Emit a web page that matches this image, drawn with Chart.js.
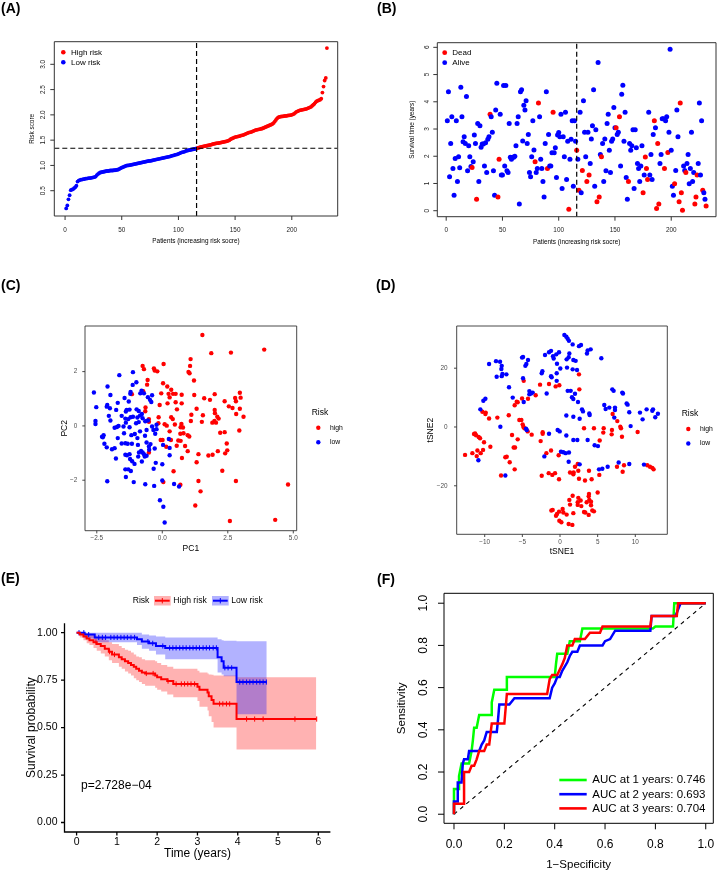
<!DOCTYPE html>
<html>
<head>
<meta charset="utf-8">
<script src="https://cdn.jsdelivr.net/npm/chart.js@4.4.1/dist/chart.umd.min.js"></script>
<style>
  body { margin: 0; background: #fff; }
  #wrap { position: relative; width: 720px; height: 873px; overflow: hidden; }
  canvas { position: absolute; }
  .tag { position: absolute; font: bold 14px "Liberation Sans", Arial, sans-serif; line-height: 18px; color: #000; }
</style>
</head>
<body>
<div id="wrap">
  <canvas id="cA" width="360" height="290" style="left:0;top:0"></canvas>
  <canvas id="cB" width="360" height="290" style="left:360px;top:0"></canvas>
  <canvas id="cC" width="360" height="270" style="left:0;top:290px"></canvas>
  <canvas id="cD" width="360" height="270" style="left:360px;top:290px"></canvas>
  <canvas id="cE" width="360" height="313" style="left:0;top:560px"></canvas>
  <canvas id="cF" width="360" height="313" style="left:360px;top:560px"></canvas>
  <div class="tag" style="left:1px;top:-1px">(A)</div>
  <div class="tag" style="left:377px;top:-1px">(B)</div>
  <div class="tag" style="left:1px;top:276px">(C)</div>
  <div class="tag" style="left:376px;top:276px">(D)</div>
  <div class="tag" style="left:1px;top:569px">(E)</div>
  <div class="tag" style="left:377px;top:570px">(F)</div>
</div>
<script>
// (A) risk score of each patient, sorted
const riskScore = [
  0.15,0.21,0.33,0.41,0.51,0.52,0.53,0.55,0.57,0.60,
  0.68,0.70,0.71,0.72,0.72,0.73,0.73,0.74,0.74,0.745,
  0.75,0.75,0.755,0.76,0.765,0.77,0.78,0.81,0.83,0.845,
  0.86,0.865,0.87,0.875,0.88,0.885,0.89,0.89,0.895,0.90,
  0.90,0.90,0.905,0.905,0.91,0.915,0.92,0.93,0.945,0.955,
  0.965,0.975,0.985,0.995,1.0,1.0,1.005,1.01,1.015,1.02,
  1.025,1.03,1.035,1.04,1.045,1.05,1.055,1.06,1.065,1.07,
  1.075,1.08,1.085,1.09,1.09,1.095,1.10,1.105,1.11,1.115,
  1.12,1.125,1.13,1.135,1.14,1.145,1.15,1.155,1.16,1.165,
  1.17,1.175,1.18,1.19,1.195,1.20,1.21,1.215,1.22,1.23,
  1.24,1.25,1.26,1.265,1.27,1.28,1.29,1.295,1.30,1.305,
  1.31,1.315,1.32,1.325,1.33,1.335,1.345,1.35,1.36,1.365,
  1.37,1.375,1.38,1.385,1.39,1.395,1.40,1.405,1.41,1.42,
  1.425,1.43,1.435,1.44,1.44,1.445,1.45,1.455,1.46,1.465,
  1.47,1.475,1.48,1.49,1.50,1.52,1.53,1.54,1.55,1.56,
  1.565,1.57,1.575,1.58,1.59,1.595,1.60,1.61,1.62,1.63,
  1.64,1.65,1.655,1.66,1.67,1.68,1.69,1.70,1.705,1.71,
  1.715,1.72,1.725,1.73,1.74,1.75,1.76,1.77,1.78,1.79,
  1.80,1.81,1.82,1.84,1.87,1.90,1.93,1.95,1.96,1.965,
  1.97,1.97,1.975,1.98,1.98,1.985,1.99,1.99,1.995,2.0,
  2.01,2.02,2.04,2.06,2.07,2.08,2.09,2.095,2.10,2.105,
  2.11,2.115,2.12,2.13,2.14,2.15,2.16,2.18,2.20,2.22,
  2.25,2.27,2.28,2.29,2.30,2.32,2.44,2.56,2.68,2.73,3.32
];
const riskCutIndex = 116;
const riskCutScore = 1.34;
const riskLegend = ['High risk', 'Low risk'];
const patientTicks = [0, 50, 100, 150, 200];
const riskTicks = [0.5, 1.0, 1.5, 2.0, 2.5, 3.0];

// (B) survival time (years) and status (1 = dead) in the same patient order
const survTime = [
  3.3,4.37,1.25,2.47,3.45,1.55,0.57,1.92,3.3,1.07,
  1.98,1.58,4.53,3.45,2.53,2.72,2.47,4.19,1.47,2.39,
  1.98,1.62,1.59,1.8,2.78,2.47,0.42,3.2,1.07,3.12,
  2.33,2.45,2.45,1.64,2.5,1.4,2.62,2.72,3.54,3.45,
  2.88,1.47,0.57,3.7,4.68,0.5,1.89,3.54,1.31,1.31,
  4.6,1.64,4.6,1.47,1.4,3.2,1.96,1.89,1.96,1.96,
  2.0,
  2.39,3.2,3.45,0.25,4.37,4.44,2.56,3.87,3.7,4.04,
  2.47,2.8,1.4,1.25,1.98,3.3,2.23,1.8,1.4,1.55,
  3.96,3.45,1.89,1.55,1.07,0.5,2.47,4.37,1.55,2.8,
  1.64,1.64,2.13,3.62,2.13,2.31,1.22,2.78,2.87,2.72,
  3.54,0.82,2.72,1.98,3.62,1.15,2.55,0.05,1.89,2.62,
  3.3,0.9,3.3,2.55,2.22,1.89,0.75,3.62,0.66,1.48,
  4.04,2.88,1.98,1.07,2.88,1.31,1.73,2.63,3.12,4.44,
  0.9,2.97,0.33,5.44,0.5,2.06,1.98,2.47,1.07,2.63,
  1.47,3.2,3.54,2.22,1.4,2.55,2.63,3.79,3.05,3.05,
  2.8,2.88,3.45,1.64,4.28,4.61,2.55,3.62,1.22,0.42,
  1.07,2.47,2.22,2.39,2.97,0.82,2.97,2.31,1.73,1.55,
  1.07,1.64,2.39,0.66,1.31,1.97,1.55,1.15,3.62,1.31,
  2.06,1.15,2.8,3.3,3.05,0.08,2.47,0.25,1.73,2.06,
  3.38,3.38,1.55,3.3,3.45,2.14,2.88,5.93,2.22,0.9,
  0.57,0.99,1.48,3.7,2.72,0.33,3.96,0.66,0.02,1.64,
  1.48,1.4,1.73,2.06,0.99,1.55,2.88,1.07,1.4,0.25,
  0.5,1.31,1.73,3.96,1.31,3.3,0.75,0.66,0.42,0.17
];
const survStatus = [
  0,0,0,0,0,0,0,0,0,0, 0,0,0,0,0,0,0,0,0,0,
  0,0,1,0,0,0,1,0,0,0, 0,0,0,0,0,0,0,0,1,0,
  0,0,0,0,0,1,1,0,0,0, 0,0,0,0,0,0,0,0,0,0,
  0,
  0,0,0,0,0,0,0,0,0,0, 0,0,0,0,0,0,0,1,0,0,
  1,0,0,0,0,0,0,0,1,0, 0,0,0,1,0,0,0,0,0,0,
  0,0,0,0,0,0,0,1,0,0, 0,0,0,0,1,0,1,0,0,1,
  0,0,0,1,0,1,0,0,0,0, 0,0,1,0,1,0,1,0,0,0,
  0,0,0,0,0,0,0,0,0,1, 0,0,1,0,0,0,0,0,0,0,
  1,0,0,0,0,0,0,0,0,0, 0,0,0,1,0,1,1,1,0,0,
  0,0,0,1,0,1,1,1,0,0, 0,0,1,0,0,1,0,0,0,0,
  0,1,0,0,0,1,1,1,1,0, 0,1,0,0,0,0,0,0,0,1,
  1,1,0,0,0,0,1,0,0,1
];
const statusLegend = ['Dead', 'Alive'];
const survTicks = [0, 1, 2, 3, 4, 5, 6];

// (C) PCA coordinates [PC1, PC2]
const pcaHigh = [
  [1.53,3.35],[1.87,2.68],[2.62,2.7],[3.89,2.81],[-0.75,2.21],[-0.7,2.09],[-0.32,2.12],[-0.29,2.04],[-0.19,2.01],[0.05,2.28],
  [1.08,2.46],[1.06,2.21],[1.0,1.99],[1.04,1.94],[1.21,1.67],[-0.56,1.69],[-0.58,1.52],[0.03,1.57],[0.19,1.45],[0.34,1.33],
  [0.41,1.18],[0.24,1.18],[0.51,1.18],[-0.04,1.2],[0.74,1.15],[1.22,1.14],[-1.16,1.17],[-0.73,1.28],[-0.78,1.25],[1.6,1.02],
  [1.82,0.96],[2.0,1.17],[2.38,0.91],[2.78,1.03],[2.81,0.91],[2.96,1.22],[2.99,1.04],[2.54,0.72],[2.68,0.66],[2.96,0.63],
  [3.1,0.34],[2.82,0.44],[1.31,0.63],[1.55,0.39],[1.11,0.41],[1.09,0.18],[-0.1,0.77],[-0.64,0.68],[-0.65,0.54],[0.2,0.83],
  [0.51,0.87],[0.74,0.83],[0.56,0.61],[0.34,0.32],[-0.14,0.32],[-0.51,0.25],[-0.51,0.15],[-0.15,0.1],[0.09,0.06],[0.17,0.01],
  [0.48,0.05],[0.73,0.07],[0.7,-0.05],[0.79,-0.06],[0.69,-0.29],[0.81,-0.27],[0.97,-0.34],[1.03,-0.39],[2.0,0.59],[2.01,0.47],
  [2.1,0.34],[1.99,0.18],[1.91,0.12],[2.05,0.12],[2.15,0.27],[1.51,0.15],[2.21,-0.25],[2.38,-0.23],[2.94,-0.17],[-0.06,-0.52],
  [0.01,-0.52],[0.28,-0.2],[0.33,-0.52],[0.61,-0.54],[0.7,-0.55],[0.55,-0.73],[0.15,-0.77],[0.87,-0.74],[-0.51,-0.98],[0.97,-0.93],
  [1.38,-1.04],[1.92,-1.06],[1.76,-1.09],[2.12,-0.93],[2.48,-0.9],[2.4,-1.01],[2.46,-0.65],[0.75,-1.18],[1.31,-1.34],[0.43,-1.67],
  [2.29,-1.65],[0.04,-2.07],[0.69,-2.17],[1.38,-2.03],[2.81,-2.03],[1.46,-2.41],[1.26,-2.93],[2.58,-3.5],[4.31,-3.46],[4.8,-2.16],
  [0.4,0.25],[0.28,1.05]
];
const pcaLow = [
  [-2.61,1.23],[-2.52,0.69],[-2.55,0.18],[-2.55,0.07],[-2.09,1.45],[-1.98,1.14],[-2.1,0.77],[-2.12,0.71],[-2.0,0.65],[-2.04,0.37],
  [-1.98,0.2],[-2.24,-0.34],[-2.27,-0.42],[-2.21,-0.66],[-2.12,-0.79],[-1.92,-0.86],[-1.82,-0.82],[-1.77,-1.2],[-2.1,-2.04],[-1.64,1.87],
  [-1.7,0.85],[-1.76,0.59],[-1.55,0.37],[-1.67,0.0],[-1.82,-0.07],[-1.73,-0.04],[-1.46,-0.27],[-1.48,-0.02],[-1.39,0.12],[-1.41,0.27],
  [-1.39,0.53],[-1.36,0.59],[-1.44,1.03],[-1.28,0.9],[-1.21,1.25],[-1.22,1.18],[-1.13,1.51],[-0.99,1.61],[-1.12,1.98],[-1.12,0.34],
  [-1.21,0.32],[-1.25,-0.05],[-1.18,-0.34],[-0.98,0.61],[-0.95,0.31],[-0.9,0.14],[-0.85,0.38],[-0.78,0.44],[-0.75,0.28],[-0.65,0.17],
  [-0.84,1.2],[-0.7,1.2],[-0.79,1.3],[-0.55,1.06],[-0.47,0.96],[-0.39,1.13],[-0.42,0.88],[-1.41,-0.64],[-1.32,-0.66],[-1.16,-0.66],
  [-1.35,-1.08],[-1.25,-1.04],[-1.41,-1.06],[-1.23,-1.22],[-1.15,-1.3],[-1.06,-1.4],[-1.41,-1.6],[-1.3,-1.6],[-1.2,-1.66],[-1.39,-1.88],
  [-1.09,-2.07],[-0.93,-0.7],[-0.89,-0.98],[-0.92,-1.13],[-0.81,-0.92],[-0.75,-0.98],[-0.7,-1.04],[-0.67,-1.13],[-0.78,-1.31],[-0.6,-1.1],
  [-0.6,-0.61],[-0.51,-0.76],[-0.45,-0.67],[-0.39,-0.02],[-0.34,-0.15],[-0.22,0.04],[-0.22,-0.12],[-0.27,-0.29],[-0.6,-0.15],[-0.66,-0.36],
  [-0.5,-0.88],[-0.29,-0.83],[-0.25,-1.36],[-0.33,-1.58],[-0.65,-2.15],[-0.31,-2.21],[0.0,-1.41],[0.03,-0.7],[0.25,-0.48],[0.28,-0.81],
  [0.28,-1.08],[0.45,-2.14],[0.64,-2.23],[-0.09,-2.74],[0.04,-2.98],[0.09,-3.56],[0.0,-2.01],[-1.0,0.1],[-1.3,0.25],[-1.05,-0.3],
  [-0.95,-0.45],[-1.55,-0.65],[-1.7,-0.45],[-0.9,0.55],[-1.25,0.6],[-2.3,-0.4],[-0.55,0.2],[-0.85,-0.2]
];
const pcaXTicks = [-2.5, 0, 2.5, 5];
const pcaYTicks = [-2, 0, 2];

// (D) t-SNE coordinates [tSNE1, tSNE2]
const tsneHigh = [
  [-12.61,-9.5],[-11.64,-8.9],[-11.42,-2.4],[-11.15,-2.8],[-11.28,-2.2],[-10.8,-3.4],[-10.62,-3.85],[-10.97,-8.0],[-11.06,-9.9],[-10.53,-8.9],
  [-10.22,-7.8],[-10.09,-5.2],[-9.25,-6.7],[-10.31,5.2],[-9.87,4.9],[-9.91,4.4],[-9.42,2.9],[-8.32,3.2],[-6.81,4.0],[-7.83,-16.5],
  [-7.26,-10.3],[-7.08,-10.1],[-6.68,-12.0],[-6.37,-2.7],[-6.15,-7.0],[-5.97,-7.0],[-6.02,-14.4],[-5.62,-4.2],[-5.4,2.4],[-5.13,2.4],
  [-4.96,0.9],[-4.87,0.1],[-5.04,9.7],[-5.75,8.6],[-6.02,7.4],[-5.62,8.4],[-4.82,15.7],[-4.25,9.6],[-4.73,-0.45],[-4.29,-1.5],
  [-3.76,-2.6],[-3.23,10.8],[-2.65,14.4],[-2.57,-4.8],[-2.3,-1.8],[-2.43,-16.6],[-2.3,-2.3],[-1.81,-8.9],[-1.19,-8.0],[-1.46,14.6],
  [-0.58,13.8],[-0.09,14.2],[-1.5,-15.7],[-1.02,-16.3],[-0.66,-15.7],[-0.13,-17.8],[-0.18,-9.6],[1.33,-15.5],[1.77,-16.1],[1.81,-15.5],
  [1.99,-13.5],[2.35,-12.6],[2.43,-14.9],[2.52,-17.6],[2.52,17.9],[2.57,12.8],[3.32,-18.2],[3.85,-14.9],[4.2,-17.8],[3.19,-0.45],
  [4.51,-0.45],[5.27,-4.6],[5.22,-16.3],[5.8,-0.45],[5.75,-1.9],[6.86,-2.5],[6.9,-1.0],[6.99,4.4],[7.61,2.0],[8.01,0.1],
  [8.1,-0.45],[8.23,-3.3],[8.5,-13.0],[8.32,-15.2],[7.57,-13.5],[10.31,-1.7],[11.59,-13.0],[11.95,-13.5],[12.26,-13.9],[12.43,-14.4],
  [-1.15,-28.4],[-0.97,-28.2],[-0.4,-29.6],[-0.13,-28.8],[0.35,-27.9],[0.88,-29.8],[1.33,-26.4],[1.68,-23.4],[1.24,-24.8],[1.77,-29.3],
  [2.35,-25.6],[2.35,-26.5],[2.43,-24.1],[2.74,-25.0],[2.83,-26.9],[3.19,-28.9],[3.54,-25.6],[3.81,-23.6],[3.89,-24.8],[3.85,-22.8],
  [4.12,-25.4],[4.12,-26.6],[4.29,-28.4],[4.51,-28.7],[5.0,-22.3],[3.81,-29.9],[3.36,-29.1],[-0.09,-31.9],[0.18,-32.4],[1.15,-33.0],
  [1.64,-33.3],[-0.53,-30.2],[0.44,-29.1]
];
const tsneLow = [
  [-9.42,21.4],[-8.5,22.4],[-7.96,22.2],[-7.74,20.8],[-7.79,19.7],[-7.65,18.0],[-7.74,17.3],[-7.12,17.9],[-8.41,17.1],[-6.77,13.5],
  [-6.28,10.0],[-10.18,8.95],[-9.91,9.6],[-10.58,6.0],[-7.92,0.1],[-7.26,-16.5],[-10.84,-11.3],[-5.04,23.6],[-4.91,23.8],[-4.25,22.8],
  [-4.47,21.4],[-4.6,20.8],[-4.91,16.6],[-4.82,8.5],[-4.07,12.2],[-3.85,11.4],[-3.63,11.7],[-4.07,11.1],[-4.51,-0.6],[-4.42,-1.0],
  [-2.43,18.3],[-2.34,19.0],[-1.99,24.5],[-1.77,11.4],[-1.46,25.4],[-1.19,25.9],[-0.93,24.1],[-0.84,23.3],[-0.49,24.7],[-0.4,21.5],
  [-0.13,25.4],[-1.19,17.3],[-1.11,16.9],[-0.44,18.3],[0.04,19.9],[-0.44,15.7],[0.58,31.3],[0.84,30.7],[1.02,30.0],[1.19,29.3],
  [1.68,28.1],[0.88,23.0],[1.15,23.7],[1.24,25.0],[1.77,22.8],[2.08,22.5],[0.93,20.2],[1.68,19.6],[2.26,19.4],[2.52,27.5],
  [2.79,27.9],[3.67,26.0],[3.58,25.0],[4.07,26.4],[5.49,23.4],[1.02,12.3],[1.42,12.3],[1.59,10.1],[1.77,9.5],[1.99,11.3],
  [2.39,8.5],[2.92,6.0],[3.05,5.3],[3.89,4.6],[3.94,4.1],[2.61,2.8],[0.84,3.9],[1.77,3.5],[0.84,-2.9],[-0.31,-1.0],
  [-0.04,-1.5],[-1.46,-2.3],[1.77,-4.4],[2.3,-4.4],[3.67,-4.4],[4.6,-6.2],[5.04,-6.5],[-2.08,-10.0],[0.13,-8.4],[0.44,-8.6],
  [0.75,-8.9],[1.19,-8.7],[1.15,-11.8],[2.61,-12.7],[5.18,-14.4],[5.62,-14.2],[6.33,-13.5],[7.79,-12.1],[9.2,-12.6],[11.15,-12.8],
  [6.95,12.8],[7.12,12.3],[8.27,11.7],[8.36,11.4],[8.85,8.0],[8.98,7.6],[5.88,7.5],[6.55,6.6],[6.06,6.1],[7.3,6.6],
  [7.3,5.8],[7.21,3.2],[9.2,5.0],[9.38,0.3],[10.62,4.9],[10.97,2.6],[11.5,6.0],[12.26,5.5],[12.35,6.0],[12.65,3.3],
  [13.0,4.5]
];
const tsneXTicks = [-10, -5, 0, 5, 10];
const tsneYTicks = [-20, 0, 20];
const groupLegend = ['high', 'low'];

// (E) Kaplan-Meier steps: time, survival, upper and lower confidence limits
const kmHighT  = [0,0.08,0.17,0.25,0.32,0.42,0.5,0.6,0.7,0.8,0.88,1.05,1.12,1.2,1.28,1.35,1.42,1.48,1.55,1.62,1.7,1.95,2.0,2.1,2.25,2.4,3.0,3.05,3.25,3.28,3.35,3.4,3.97,5.95];
const kmHighS  = [1,0.99,0.98,0.97,0.96,0.95,0.94,0.93,0.915,0.9,0.885,0.87,0.86,0.85,0.84,0.83,0.82,0.81,0.8,0.79,0.785,0.775,0.765,0.755,0.745,0.73,0.715,0.7,0.685,0.665,0.645,0.625,0.545,0.545];
const kmHighUp = [1,1,1,0.995,0.99,0.985,0.975,0.97,0.96,0.95,0.94,0.93,0.92,0.91,0.905,0.895,0.885,0.875,0.87,0.86,0.855,0.85,0.84,0.83,0.82,0.81,0.8,0.79,0.785,0.78,0.778,0.775,0.765,0.765];
const kmHighLo = [1,0.975,0.96,0.945,0.935,0.92,0.905,0.89,0.875,0.855,0.84,0.82,0.81,0.795,0.785,0.775,0.76,0.75,0.74,0.73,0.72,0.71,0.7,0.69,0.675,0.66,0.64,0.61,0.59,0.56,0.53,0.5,0.385,0.385];
const kmLowT   = [0,0.2,0.45,1.5,1.62,1.8,1.97,2.2,3.5,3.6,3.65,3.97,4.72];
const kmLowS   = [1,0.99,0.975,0.965,0.953,0.944,0.93,0.92,0.87,0.85,0.815,0.74,0.74];
const kmLowUp  = [1,1,1,1,0.99,0.985,0.98,0.975,0.965,0.96,0.958,0.955,0.955];
const kmLowLo  = [1,0.97,0.95,0.935,0.915,0.905,0.885,0.86,0.79,0.78,0.77,0.57,0.57];
const kmHighCensor = [0.48,0.82,0.94,1.73,1.9,2.27,2.47,2.6,2.68,2.76,2.84,2.93,3.55,3.63,3.72,3.8,4.22,4.42,4.63,5.42,5.96];
const kmLowCensor = [0.06,0.18,0.3,0.55,0.64,0.72,0.85,0.93,1.01,1.1,1.18,1.26,1.35,1.44,1.77,1.89,2.14,2.31,2.39,2.47,2.56,2.64,2.72,2.81,2.89,2.97,3.05,3.14,3.22,3.3,3.39,3.47,3.68,3.76,3.85,4.05,4.13,4.22,4.3,4.38,4.47,4.55,4.63,4.71];
const kmLegend = ['High risk', 'Low risk'];
const kmTimeTicks = [0, 1, 2, 3, 4, 5, 6];
const kmProbTicks = [0, 0.25, 0.5, 0.75, 1];
const kmPValue = '2.728e\u221204';

// (F) time-dependent ROC curves [1-specificity, sensitivity]
const roc1y = [[0,0],[0,0.12],[0.02,0.12],[0.02,0.18],[0.03,0.24],[0.06,0.24],[0.07,0.3],[0.075,0.35],[0.08,0.41],[0.09,0.41],[0.1,0.47],[0.15,0.47],[0.15,0.53],[0.16,0.59],[0.21,0.59],[0.21,0.65],[0.4,0.65],[0.405,0.71],[0.41,0.76],[0.45,0.76],[0.46,0.82],[0.5,0.82],[0.51,0.88],[0.79,0.88],[0.8,0.89],[0.87,0.89],[0.875,1],[1,1]];
const roc2y = [[0,0],[0,0.06],[0.015,0.06],[0.015,0.15],[0.03,0.15],[0.035,0.24],[0.04,0.26],[0.055,0.26],[0.06,0.3],[0.1,0.3],[0.11,0.33],[0.12,0.35],[0.13,0.39],[0.17,0.39],[0.175,0.45],[0.18,0.52],[0.22,0.52],[0.24,0.55],[0.38,0.55],[0.39,0.6],[0.4,0.62],[0.41,0.65],[0.42,0.65],[0.43,0.68],[0.45,0.72],[0.46,0.75],[0.47,0.77],[0.49,0.77],[0.5,0.8],[0.59,0.8],[0.6,0.82],[0.62,0.83],[0.64,0.87],[0.78,0.87],[0.785,0.94],[0.88,0.94],[0.89,0.97],[0.9,1],[1,1]];
const roc3y = [[0,0],[0,0.05],[0.04,0.05],[0.04,0.2],[0.06,0.2],[0.07,0.23],[0.08,0.23],[0.09,0.26],[0.1,0.3],[0.12,0.3],[0.13,0.33],[0.14,0.33],[0.15,0.43],[0.2,0.43],[0.21,0.57],[0.37,0.57],[0.38,0.64],[0.39,0.66],[0.41,0.66],[0.43,0.71],[0.44,0.74],[0.45,0.8],[0.47,0.8],[0.48,0.83],[0.52,0.83],[0.54,0.86],[0.58,0.86],[0.59,0.89],[0.78,0.89],[0.785,0.94],[0.885,0.94],[0.89,1],[1,1]];
const rocYears = [1, 2, 3];
const rocAuc = [0.746, 0.693, 0.704];
const rocTicks = [0, 0.2, 0.4, 0.6, 0.8, 1.0];

const FONT = '"Liberation Sans", Arial, Helvetica, sans-serif';
const RED = '#FF0000', BLUE = '#0000FF', GREEN = '#00FF00';
const font = (size, bold) => (bold ? 'bold ' : '') + size + 'px ' + FONT;
const minus = s => s.replace('-', '\u2212');
const pts = arr => arr.map(p => ({ x: p[0], y: p[1] }));
const steps = (T, V) => T.map((t, i) => ({ x: t, y: V[i] }));

function survAt(T, S, t) {
  let s = S[0];
  for (let i = 0; i < T.length; i++) if (T[i] <= t) s = S[i];
  return s;
}

function txt(ctx, s, x, y, f, color, align, rot) {
  ctx.save();
  ctx.font = f;
  ctx.fillStyle = color;
  ctx.textAlign = align || 'center';
  ctx.textBaseline = 'middle';
  ctx.translate(x, y);
  if (rot) ctx.rotate(rot);
  ctx.fillText(s, 0, 0);
  ctx.restore();
}

function dot(ctx, x, y, r, c) {
  ctx.beginPath();
  ctx.arc(x, y, r, 0, Math.PI * 2);
  ctx.fillStyle = c;
  ctx.fill();
}

function baseOptions(xr, yr, pad) {
  return {
    responsive: false,
    animation: false,
    devicePixelRatio: 1,
    events: [],
    layout: { padding: pad },
    plugins: { legend: { display: false }, tooltip: { enabled: false } },
    elements: { point: { radius: 0, borderWidth: 0 }, line: { tension: 0 } },
    scales: {
      x: { type: 'linear', display: false, min: xr[0], max: xr[1] },
      y: { type: 'linear', display: false, min: yr[0], max: yr[1] }
    }
  };
}

// axes, ticks, titles and per-panel extras, drawn after the data
function frame(o) {
  return {
    id: 'frame',
    afterDraw(chart) {
      const ctx = chart.ctx, a = chart.chartArea, xs = chart.scales.x, ys = chart.scales.y;
      ctx.save();
      ctx.strokeStyle = o.line;
      ctx.lineWidth = o.lw;
      ctx.beginPath();
      if (o.lshape) {
        ctx.moveTo(a.left, a.top);
        ctx.lineTo(a.left, a.bottom);
        ctx.lineTo(a.right, a.bottom);
      } else {
        ctx.rect(a.left, a.top, a.right - a.left, a.bottom - a.top);
      }
      o.xTicks.forEach(v => {
        const p = xs.getPixelForValue(v);
        ctx.moveTo(p, a.bottom);
        ctx.lineTo(p, a.bottom + o.tick);
      });
      o.yTicks.forEach(v => {
        const p = ys.getPixelForValue(v);
        ctx.moveTo(a.left, p);
        ctx.lineTo(a.left - o.tick, p);
      });
      ctx.stroke();
      o.xTicks.forEach(v => txt(ctx, o.fmt(v, 'x'), xs.getPixelForValue(v), o.xLabelY, o.tickFont, o.labelColor));
      o.yTicks.forEach(v => {
        const p = ys.getPixelForValue(v);
        if (o.yRotate) txt(ctx, o.fmt(v, 'y'), o.yLabelX, p, o.tickFont, o.labelColor, 'center', -Math.PI / 2);
        else txt(ctx, o.fmt(v, 'y'), o.yLabelX, p, o.tickFont, o.labelColor, 'right');
      });
      txt(ctx, o.xTitle, (a.left + a.right) / 2, o.xTitleY, o.titleFont, '#000');
      txt(ctx, o.yTitle, o.yTitleX, (a.top + a.bottom) / 2, o.titleFont, '#000', 'center', -Math.PI / 2);
      if (o.extra) o.extra(ctx, chart);
      ctx.restore();
    }
  };
}

// ---- (A) risk score ----
const riskX = [-9.5, 240.5], riskY = [0, 3.447];
new Chart(document.getElementById('cA'), {
  type: 'scatter',
  data: { datasets: [
    { data: [{ x: riskCutIndex, y: riskY[0] }, { x: riskCutIndex, y: riskY[1] }], showLine: true, borderColor: '#000', borderWidth: 1.2, borderDash: [5, 3], pointRadius: 0 },
    { data: [{ x: riskX[0], y: riskCutScore }, { x: riskX[1], y: riskCutScore }], showLine: true, borderColor: '#000', borderWidth: 1.2, borderDash: [5, 3], pointRadius: 0 },
    { data: riskScore.slice(riskCutIndex).map((v, i) => ({ x: riskCutIndex + i + 1, y: v })), pointRadius: 1.9, pointBackgroundColor: RED, pointBorderWidth: 0 },
    { data: riskScore.slice(0, riskCutIndex).map((v, i) => ({ x: i + 1, y: v })), pointRadius: 1.9, pointBackgroundColor: BLUE, pointBorderWidth: 0 }
  ]},
  options: baseOptions(riskX, riskY, { left: 54.3, top: 41.7, right: 22.3, bottom: 74 }),
  plugins: [frame({
    line: '#333', lw: 1, tick: 4, xTicks: patientTicks, yTicks: riskTicks,
    fmt: (v, ax) => ax === 'x' ? String(v) : v.toFixed(1),
    tickFont: font(6.4), labelColor: '#222', titleFont: font(6.4),
    xLabelY: 230, yLabelX: 43.5, yRotate: true,
    xTitle: 'Patients (increasing risk socre)', xTitleY: 241,
    yTitle: 'Risk score', yTitleX: 32,
    extra(ctx) {
      riskLegend.forEach((lab, i) => {
        dot(ctx, 63.3, 52.3 + i * 10, 2.3, i === 0 ? RED : BLUE);
        txt(ctx, lab, 71, 52.6 + i * 10, font(8), '#000', 'left');
      });
    }
  })]
});

// ---- (B) survival status ----
const survX = [-7.9, 239.8], survY = [-0.22, 6.17];
new Chart(document.getElementById('cB'), {
  type: 'scatter',
  data: { datasets: [
    { data: [{ x: riskCutIndex, y: survY[0] }, { x: riskCutIndex, y: survY[1] }], showLine: true, borderColor: '#000', borderWidth: 1.2, borderDash: [5, 3], pointRadius: 0 },
    { data: survTime.map((v, i) => ({ x: i + 1, y: v })), pointRadius: 2.5, pointBorderWidth: 0,
      pointBackgroundColor: survStatus.map(s => s === 1 ? RED : BLUE) }
  ]},
  options: baseOptions(survX, survY, { left: 77.3, top: 42.7, right: 1.5, bottom: 73.3 }),
  plugins: [frame({
    line: '#333', lw: 1, tick: 4, xTicks: patientTicks, yTicks: survTicks,
    fmt: v => String(v),
    tickFont: font(6.4), labelColor: '#222', titleFont: font(6.4),
    xLabelY: 230, yLabelX: 67, yRotate: true,
    xTitle: 'Patients (increasing risk socre)', xTitleY: 242.3,
    yTitle: 'Survival time (years)', yTitleX: 52.3,
    extra(ctx) {
      statusLegend.forEach((lab, i) => {
        dot(ctx, 84.7, 52.7 + i * 10, 2.4, i === 0 ? RED : BLUE);
        txt(ctx, lab, 92.3, 53 + i * 10, font(8), '#000', 'left');
      });
    }
  })]
});

// ggplot style legend for (C) and (D)
function riskKey(x, y) {
  return ctx => {
    txt(ctx, 'Risk', x, y, font(8.5), '#000', 'left');
    groupLegend.forEach((lab, i) => {
      dot(ctx, x + 6.6, y + 15 + i * 14.5, 2.2, i === 0 ? RED : BLUE);
      txt(ctx, lab, x + 18.3, y + 15 + i * 14.5, font(6.8), '#000', 'left');
    });
  };
}

// ---- (C) PCA ----
new Chart(document.getElementById('cC'), {
  type: 'scatter',
  data: { datasets: [
    { data: pts(pcaLow), pointRadius: 2.2, pointBackgroundColor: BLUE, pointBorderWidth: 0 },
    { data: pts(pcaHigh), pointRadius: 2.2, pointBackgroundColor: RED, pointBorderWidth: 0 }
  ]},
  options: baseOptions([-2.95, 5.13], [-3.86, 3.68], { left: 85, top: 36, right: 63.3, bottom: 29.3 }),
  plugins: [frame({
    line: '#333', lw: 0.9, tick: 2.7, xTicks: pcaXTicks, yTicks: pcaYTicks,
    fmt: (v, ax) => ax === 'x' ? minus(v.toFixed(1)) : minus(String(v)),
    tickFont: font(6.4), labelColor: '#4D4D4D', titleFont: font(8.5),
    xLabelY: 248.3, yLabelX: 77.3, yRotate: false,
    xTitle: 'PC1', xTitleY: 258.3, yTitle: 'PC2', yTitleX: 65,
    extra: riskKey(311.7, 122.7)
  })]
});

// ---- (D) t-SNE ----
new Chart(document.getElementById('cD'), {
  type: 'scatter',
  data: { datasets: [
    { data: pts(tsneLow), pointRadius: 2.2, pointBackgroundColor: BLUE, pointBorderWidth: 0 },
    { data: pts(tsneHigh), pointRadius: 2.2, pointBackgroundColor: RED, pointBorderWidth: 0 }
  ]},
  options: baseOptions([-13.72, 14.25], [-36.5, 34.35], { left: 96.7, top: 36, right: 52.7, bottom: 25.7 }),
  plugins: [frame({
    line: '#333', lw: 0.9, tick: 2.7, xTicks: tsneXTicks, yTicks: tsneYTicks,
    fmt: v => minus(String(v)),
    tickFont: font(6.4), labelColor: '#4D4D4D', titleFont: font(8.5),
    xLabelY: 252.3, yLabelX: 87.5, yRotate: false,
    xTitle: 'tSNE1', xTitleY: 261.7, yTitle: 'tSNE2', yTitleX: 71,
    extra: riskKey(321.7, 124)
  })]
});

// ---- (E) Kaplan-Meier ----
const bandRed = 'rgba(255,0,0,0.3)', bandBlue = 'rgba(0,0,255,0.3)';
function censorSet(times, T, S, color) {
  return { data: times.map(t => ({ x: t, y: survAt(T, S, t) })), showLine: false,
    pointStyle: 'line', pointRotation: 90, pointRadius: 2.6, pointBorderWidth: 1, pointBorderColor: color };
}
function bandSet(T, V, fill, color) {
  return { data: steps(T, V), stepped: true, borderWidth: 0, borderColor: 'rgba(0,0,0,0)',
    pointRadius: 0, fill: fill, backgroundColor: color };
}
new Chart(document.getElementById('cE'), {
  type: 'line',
  data: { datasets: [
    { data: steps(kmHighT, kmHighS), stepped: true, borderColor: RED, borderWidth: 2, pointRadius: 0, fill: false },
    { data: steps(kmLowT, kmLowS), stepped: true, borderColor: BLUE, borderWidth: 2, pointRadius: 0, fill: false },
    censorSet(kmHighCensor, kmHighT, kmHighS, RED),
    censorSet(kmLowCensor, kmLowT, kmLowS, BLUE),
    bandSet(kmLowT, kmLowUp, '+1', bandBlue),
    bandSet(kmLowT, kmLowLo, false, bandBlue),
    bandSet(kmHighT, kmHighUp, '+1', bandRed),
    bandSet(kmHighT, kmHighLo, false, bandRed)
  ]},
  options: baseOptions([-0.3, 6.3], [-0.05, 1.05], { left: 64.5, top: 63.2, right: 29.6, bottom: 41 }),
  plugins: [frame({
    line: '#000', lw: 1.3, tick: 3.5, lshape: true, xTicks: kmTimeTicks, yTicks: kmProbTicks,
    fmt: (v, ax) => ax === 'x' ? String(v) : v.toFixed(2),
    tickFont: font(10.5), labelColor: '#000', titleFont: font(12),
    xLabelY: 281.7, yLabelX: 57.5, yRotate: false,
    xTitle: 'Time (years)', xTitleY: 294, yTitle: 'Survival probability', yTitleX: 31.7,
    extra(ctx) {
      txt(ctx, 'Risk', 132.7, 40.5, font(8.6), '#000', 'left');
      const keys = [[154, RED, bandRed], [212, BLUE, bandBlue]];
      keys.forEach((k, i) => {
        ctx.fillStyle = k[2];
        ctx.fillRect(k[0], 36, 16.7, 9.5);
        ctx.strokeStyle = k[1];
        ctx.lineWidth = 2;
        ctx.beginPath();
        ctx.moveTo(k[0] + 1, 40.7); ctx.lineTo(k[0] + 15.7, 40.7);
        ctx.stroke();
        ctx.lineWidth = 1;
        ctx.beginPath();
        ctx.moveTo(k[0] + 8.3, 38); ctx.lineTo(k[0] + 8.3, 43.4);
        ctx.stroke();
        txt(ctx, kmLegend[i], k[0] + 19.3, 40.5, font(8.6), '#000', 'left');
      });
      txt(ctx, 'p=' + kmPValue, 81, 226, font(12), '#000', 'left');
    }
  })]
});

// ---- (F) ROC ----
const rocColors = [GREEN, BLUE, RED];
new Chart(document.getElementById('cF'), {
  type: 'line',
  data: { datasets: [
    { data: pts(roc3y), borderColor: RED, borderWidth: 2.5, pointRadius: 0, fill: false },
    { data: pts(roc2y), borderColor: BLUE, borderWidth: 2.5, pointRadius: 0, fill: false },
    { data: pts(roc1y), borderColor: GREEN, borderWidth: 2.5, pointRadius: 0, fill: false },
    { data: [{ x: 0, y: 0 }, { x: 1, y: 1 }], borderColor: '#000', borderWidth: 1.1, borderDash: [4, 4], pointRadius: 0, fill: false }
  ]},
  options: baseOptions([-0.0397, 1.030], [-0.043, 1.047], { left: 84, top: 33.3, right: 6.7, bottom: 49.7 }),
  plugins: [frame({
    line: '#000', lw: 1, tick: 6, xTicks: rocTicks, yTicks: rocTicks,
    fmt: v => v.toFixed(1),
    tickFont: font(12), labelColor: '#000', titleFont: font(11.5),
    xLabelY: 285, yLabelX: 63.3, yRotate: true,
    xTitle: '1\u2212Specificity', xTitleY: 305, yTitle: 'Sensitivity', yTitleX: 41.7,
    extra(ctx) {
      rocYears.forEach((yr, i) => {
        const y = 220 + i * 14.2;
        ctx.strokeStyle = rocColors[i];
        ctx.lineWidth = 2.6;
        ctx.beginPath();
        ctx.moveTo(199.3, y); ctx.lineTo(226.7, y);
        ctx.stroke();
        txt(ctx, 'AUC at ' + yr + ' years: ' + rocAuc[i].toFixed(3), 232.3, y + 0.3, font(11.5), '#000', 'left');
      });
    }
  })]
});
</script>
</body>
</html>
